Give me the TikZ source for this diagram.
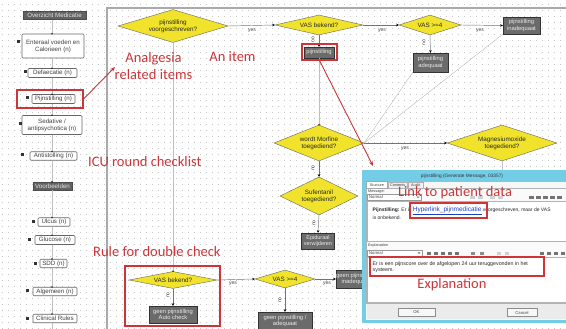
\documentclass[tikz,border=0pt]{standalone}
\usepackage{fontspec}
\setmainfont{Liberation Sans}
\newfontfamily\notefont{Carlito}
\usetikzlibrary{shapes.geometric,arrows.meta}

\definecolor{dotgray}{HTML}{C6C6C6}
\definecolor{framegray}{HTML}{A9A9A9}
\definecolor{flowyellow}{HTML}{F1E32B}
\definecolor{stepgray}{HTML}{6B6B6B}
\definecolor{notered}{RGB}{206,52,56}
\definecolor{wincyan}{HTML}{74CDE6}
\definecolor{linkblue}{HTML}{1B3FC4}

\tikzset{
  decision/.style={diamond, draw=black!60, line width=0.4pt, fill=flowyellow, inner sep=0pt,
    align=center, font=\fontsize{6.3}{7.2}\selectfont, text=black!85},
  stepbox/.style={rectangle, draw=black!80, line width=0.4pt, fill=stepgray, inner sep=0pt,
    align=center, font=\fontsize{5.8}{6.8}\selectfont, text=black!8},
  listitem/.style={rectangle, draw=black!60, line width=0.6pt, rounded corners=1pt,
    fill=white, inner sep=0pt, align=center, font=\fontsize{6.2}{7}\selectfont, text=black!75},
  listhead/.style={rectangle, draw=black!70, fill=black!62, inner sep=0pt,
    font=\fontsize{6.2}{7}\selectfont, text=white!90!black},
  sqmark/.style={rectangle, fill=black!80, minimum size=3pt, inner sep=0pt},
  flow/.style={draw=black!55, line width=0.45pt, -{Stealth[length=2.6pt,width=2.6pt,color=black]}},
  guide/.style={draw=black!25, line width=0.45pt},
  lbl/.style={font=\fontsize{5}{5}\selectfont, text=black!75, inner sep=0pt},
  annot/.style={font=\notefont\fontsize{14.5}{17.5}\selectfont, text=notered, inner sep=0pt},
  hilite/.style={rectangle, draw=notered, line width=1.1pt, inner sep=0pt},
  redarrow/.style={draw=notered, line width=0.9pt, -{Stealth[length=5pt,width=4pt]}},
  ui/.style={font=\fontsize{4.2}{5}\selectfont, text=black!75, inner sep=0pt},
}

\begin{document}
\begin{tikzpicture}[x=1pt,y=-1pt]
\useasboundingbox (0,0) rectangle (566,329);
\clip (0,0) rectangle (566,329);
\fill[white] (0,0) rectangle (566,329);

% dotted drawing grid
\foreach \r in {4,10,...,328} {
  \draw[dotgray, line width=0.9pt, dash pattern=on 0.9pt off 5.1pt] (2,\r) -- (566,\r);
}

% frame of the flow canvas
\draw[framegray, line width=2pt] (107,329) -- (107,8) -- (566,8);

% ---------- checklist column ----------
\coordinate (colx) at (52,0);
\node[listhead, minimum width=63pt, minimum height=8pt] (head) at (54.5,15.5) {Overzicht Medicatie};
\node[listitem, minimum width=62pt, minimum height=24pt] (ent) at (53,46) {Enteraal voeden en\\Calorieen (n)};
\node[listitem, minimum width=49pt, minimum height=9pt] (def) at (52.5,73) {Defaecatie (n)};
\node[listitem, minimum width=43pt, minimum height=9pt] (pijn) at (53.5,99) {Pijnstilling (n)};
\node[listitem, minimum width=60pt, minimum height=19pt] (sed) at (52,125) {Sedative /\\antipsychotica (n)};
\node[listitem, minimum width=47pt, minimum height=8.5pt] (anti) at (53.5,156) {Antistolling (n)};
\node[listhead, minimum width=39pt, minimum height=8pt] (voorb) at (52.5,186) {Voorbeelden};
\node[listitem, minimum width=32pt, minimum height=8.5pt] (ulcus) at (54,222) {Ulcus (n)};
\node[listitem, minimum width=40pt, minimum height=9pt] (gluc) at (55,240) {Glucose (n)};
\node[listitem, minimum width=27pt, minimum height=8.5pt] (sdd) at (53.5,263.5) {SDD (n)};
\node[listitem, minimum width=44pt, minimum height=8.5pt] (alg) at (55,291.5) {Algemeen (n)};
\node[listitem, minimum width=44pt, minimum height=8.5pt] (clin) at (55,318.5) {Clinical Rules};

% spine of the checklist, between consecutive entries
\foreach \a/\b in {head/ent,ent/def,def/pijn,pijn/sed,sed/anti,anti/voorb,voorb/ulcus,ulcus/gluc,gluc/sdd,sdd/alg,alg/clin} {
  \draw[guide] (\a.south -| colx) -- (\b.north -| colx);
}
\draw[guide] (clin.south -| colx) -- ++(0,10);
\foreach \n in {ent,def,pijn,sed,anti,voorb,ulcus,gluc,sdd,alg,clin} {
  \fill[black!85] (\n.north -| colx) circle (0.9pt);
}

\node[sqmark] (s1) at (18,42) {};
\node[sqmark] (s2) at (25,72) {};
\node[sqmark] (s3) at (27,98) {};
\node[sqmark] (s4) at (20,124) {};
\node[sqmark] (s5) at (22,155) {};
\node[sqmark] (s6) at (33,221) {};
\node[sqmark] (s7) at (29,239) {};
\node[sqmark] (s8) at (35,263) {};
\node[sqmark] (s9) at (27,290) {};
\node[sqmark] (s10) at (27,318) {};

% ---------- flow chart ----------
\node[decision, minimum width=110pt, minimum height=33pt, shape aspect=3.3] (d1) at (173,26) {pijnstilling\\voorgeschreven?};
\node[decision, minimum width=88pt, minimum height=20pt, shape aspect=4.4] (d2) at (319,25) {VAS bekend?};
\node[decision, minimum width=62pt, minimum height=20pt, shape aspect=3.1] (d3) at (430,25) {VAS >=4};
\node[stepbox, minimum width=37pt, minimum height=17pt] (binad) at (521.5,25.5) {pijnstilling\\inadequaat};
\node[stepbox, minimum width=30pt, minimum height=11pt] (bpijn) at (319,52.5) {pijnstilling};
\node[stepbox, minimum width=35pt, minimum height=19pt] (badeq) at (430.5,62.5) {pijnstilling\\adequaat};

\node[decision, minimum width=90pt, minimum height=36pt, shape aspect=2.5] (dmorf) at (319,143) {wordt Morfine\\toegediend?};
\node[decision, minimum width=110pt, minimum height=36pt, shape aspect=3] (dmag) at (502,143) {Magnesiumoxide\\toegediend?};
\node[decision, minimum width=78pt, minimum height=38pt, shape aspect=2] (dsuf) at (319,196) {Sufentanil\\toegediend?};
\node[stepbox, minimum width=33pt, minimum height=16pt, font=\fontsize{5.5}{6.5}\selectfont] (bepi) at (318,241) {Epiduraal\\verwijderen};

\node[decision, minimum width=88pt, minimum height=17pt, shape aspect=5] (dvas) at (173,280) {VAS bekend?};
\node[stepbox, minimum width=48pt, minimum height=17pt] (bauto) at (173,314.5) {geen pijnstilling\\Auto check};
\node[decision, minimum width=60pt, minimum height=18pt, shape aspect=3.3] (dvasb) at (285,279) {VAS >=4};
\node[stepbox, minimum width=40pt, minimum height=18pt] (bginad) at (356,279) {geen pijnstilling\\inadequaat};
\node[stepbox, minimum width=54pt, minimum height=18pt] (bgadeq) at (285,321) {geen pijnstilling /\\adequaat};

% connectors
\draw[flow] (d1.east) -- (d2.west);
\draw[flow] (d2.east) -- (d3.west);
\draw[flow] (d3.east) -- (binad.west);
\draw[flow] (d2.south) -- (bpijn.north);
\draw[flow] (d3.south) -- (badeq.north);
\draw[guide] (bpijn.south) -- (dmorf.north);
\fill[black!85] (dmorf.north) circle (0.9pt);
\draw[guide] (badeq.south west) -- (dmorf.east);
\draw[guide] (binad.south west) -- (dmorf.east);
\draw[flow] (dmorf.east) -- (dmag.west);
\draw[flow] (dmorf.south) -- (dsuf.north);
\draw[flow] (dsuf.south) -- (bepi.north);
\draw[guide] (dmag.south) -- ++(0,12);
\draw[guide] (d1.south) -- (dvas.north);
\fill[black!85] (dvas.north) circle (0.9pt);
\draw[flow] (dvas.east) -- (dvasb.west);
\draw[flow] (dvasb.east) -- (bginad.west);
\draw[flow] (dvas.south) -- (bauto.north);
\draw[flow] (dvasb.south) -- (bgadeq.north);

% branch labels
\node[lbl] (y1) at (252,30.5) {yes};
\node[lbl] (y2) at (382,30.5) {yes};
\node[lbl] (y3) at (480,30.5) {yes};
\node[lbl] (y4) at (405,148.5) {yes};
\node[lbl] (y5) at (233,283.5) {yes};
\node[lbl] (y6) at (327,283.5) {yes};
\node[lbl, rotate=90] (n1) at (313,40) {no};
\node[lbl, rotate=90] (n2) at (424,43) {no};
\node[lbl, rotate=90] (n3) at (313,168) {no};
\node[lbl, rotate=90] (n4) at (314,223) {no};
\node[lbl, rotate=90] (n5) at (168,295) {no};
\node[lbl, rotate=90] (n6) at (280,300) {no};

% ---------- message dialog ----------
\fill[wincyan] (362,170) rectangle (566,323);
\fill[black!3] (365.5,182) rectangle (566,319.5);
\node[ui, font=\fontsize{4.8}{5}\selectfont, text=black!80] (wtitle) at (462,176.3) {pijnstilling (Generate Message, 03357)};
\draw[black!30, fill=black!2] (366.5,188.5) rectangle (566,303);
\draw[black!35, fill=white] (366.5,181.5) rectangle (387.5,188.5);
\draw[black!30, fill=black!6] (388,182) rectangle (407.5,188.5);
\draw[black!30, fill=black!6] (408,182) rectangle (423,188.5);
\node[ui, font=\fontsize{3.8}{4}\selectfont] (tab1) at (377,185.2) {Stucture};
\node[ui, font=\fontsize{3.8}{4}\selectfont] (tab2) at (397.7,185.3) {Contents};
\node[ui, font=\fontsize{3.8}{4}\selectfont] (tab3) at (415.5,185.3) {Audit};
\node[ui, anchor=west, font=\fontsize{3.8}{4}\selectfont] (msglbl) at (368,191.6) {Message:};
\draw[black!40, fill=white] (367.5,194.5) rectangle (421,200);
\node[ui, anchor=west] (msgstyle) at (369,197.3) {Normal};
\fill[black!60] (416.5,196.6) -- (419.5,196.6) -- (418,198.2) -- cycle;
\foreach \x/\c in {470/18,478/18,490/18,498/18,529/55,536/55,543/55,550/55,557/55} {
  \fill[black!\c] (\x,195.8) rectangle ++(4.5,3);
}
\draw[black!30, fill=white] (367,201) rectangle (566,241);
\node[anchor=north west, inner sep=0pt, align=left, font=\fontsize{5}{6.4}\selectfont, text=black!85] (msgtext) at (372.5,206.8)
  {{\bfseries Pijnstilling:} Er is {\color{linkblue}\fontsize{6.5}{6.4}\selectfont\underline{Hyperlink\_pijnmedicatie}} voorgeschreven, maar de VAS\\is onbekend.};

\node[ui, anchor=west, font=\fontsize{3.8}{4}\selectfont] (explbl) at (368,246) {Explanation};
\draw[black!40, fill=white] (367.5,250) rectangle (422,256);
\node[ui, anchor=west] (expstyle) at (369,253) {Normal};
\fill[black!60] (417.5,252.3) -- (420.5,252.3) -- (419,254) -- cycle;
\foreach \x/\c in {427/55,434/55,441/55,448/55,455/55,471/45,480/45,497/18,505/18,540/55,547/55,554/55,561/55} {
  \fill[black!\c] (\x,251.5) rectangle ++(3.5,3);
}
\draw[black!30, fill=white] (367,257) rectangle (566,302);
\node[anchor=north west, inner sep=0pt, align=left, font=\fontsize{5.3}{6.6}\selectfont, text=black!85] (exptext) at (372.5,261)
  {Er is een pijnscore over de afgelopen 24 uur teruggevonden in het\\systeem.};

\fill[black!8] (366.5,303) rectangle (566,319);
\draw[black!30] (366.5,303) -- (566,303);
\node[ui, draw=black!45, fill=black!3, minimum width=37pt, minimum height=8pt] (okbtn) at (416.5,312.5) {OK};
\node[ui, draw=black!45, fill=black!3, minimum width=30pt, minimum height=8pt] (cancelbtn) at (522,312.5) {Cancel};

% ---------- red annotations ----------
\node[hilite, minimum width=66pt, minimum height=18pt] (hlitem) at (50,99) {};
\node[hilite, minimum width=35pt, minimum height=16pt] (hlstep) at (319.5,52) {};
\node[hilite, minimum width=95pt, minimum height=60pt] (hlrule) at (172.5,296) {};
\node[hilite, minimum width=77pt, minimum height=15pt] (hllink) at (448.5,210.5) {};
\node[hilite, minimum width=174pt, minimum height=19pt] (hlexpl) at (457,266.5) {};

\node[annot, align=center] (tanalg) at (153.5,66) {Analgesia\\related items};
\node[annot] (titem) at (232.5,57) {An item};
\node[annot, anchor=west] (ticu) at (88,162) {ICU round checklist};
\node[annot, anchor=west] (trule) at (93,252) {Rule for double check};
\node[annot] (tlink) at (455,193) {Link to patient data};
\node[annot] (texpl) at (452,285) {Explanation};

\coordinate (analgtip) at (115,67);
\coordinate (dialogtip) at (373,166);
\draw[redarrow] (hlitem.east) -- (analgtip);
\draw[redarrow] (hlstep.south) -- (dialogtip);
\end{tikzpicture}
\end{document}
